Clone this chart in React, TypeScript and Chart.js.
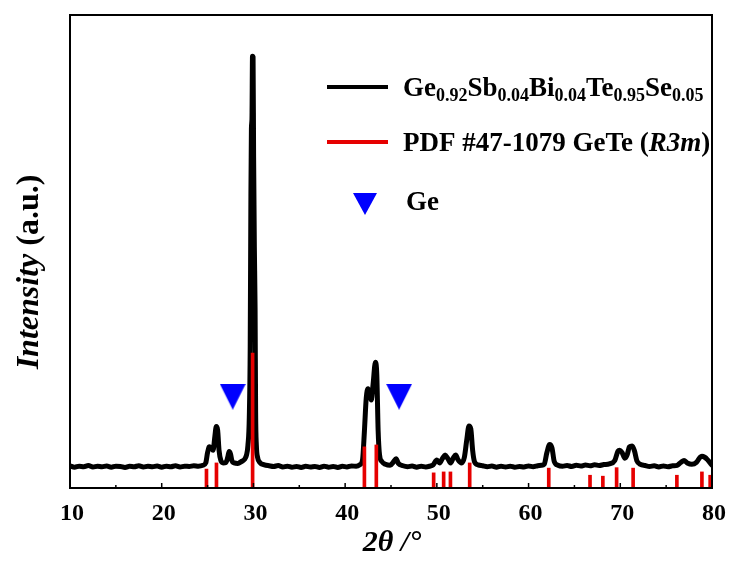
import { useEffect, useRef } from "react";
import { Chart, registerables } from "chart.js";

Chart.register(...registerables);

// Measured XRD pattern: 2θ (degrees) and intensity (arbitrary units)
const twoTheta = [
  10, 10.5, 11, 11.5, 12, 12.5, 13, 13.5, 14, 14.5, 15, 15.5, 16, 16.5, 17, 17.5, 18, 18.5, 19, 19.5,
  20, 20.5, 21, 21.5, 22, 22.5, 23, 23.5, 24, 24.5, 24.8, 25.0, 25.2, 25.4,
  25.6, 25.8, 25.95, 26.1, 26.25, 26.45, 26.7, 27.0, 27.2, 27.35, 27.5, 27.65, 27.9, 28.3, 28.7,
  29.0, 29.25, 29.4, 29.55, 29.65, 29.72, 29.78, 29.84, 29.9, 29.96, 30.02, 30.1, 30.18, 30.24,
  30.32, 30.45, 30.7, 31.2, 31.7, 32.2, 32.7, 33.2, 33.7, 34.2, 34.7, 35.2, 35.7, 36.2, 36.7, 37.2,
  37.7, 38.2, 38.7, 39.2, 39.7, 40.2, 40.7, 41.2, 41.6, 41.9, 42.1, 42.3, 42.5,
  42.65, 42.85, 43.05, 43.3, 43.45, 43.6, 43.75, 44.0, 44.4, 44.9, 45.3, 45.55, 45.8, 46.3, 46.8,
  47.3, 47.8, 48.3, 48.8, 49.2, 49.6, 50.0, 50.3, 50.6, 50.9, 51.2, 51.5, 51.8, 52.05, 52.3, 52.7, 53.0, 53.25, 53.5,
  53.7, 53.9, 54.1, 54.5, 55, 55.5, 56, 56.5, 57, 57.5, 58, 58.5, 59, 59.5, 60, 60.5, 61, 61.4,
  61.7, 62.0, 62.3, 62.55, 62.8, 63.2, 63.7, 64.2, 64.7, 65.2, 65.7, 66.2, 66.7, 67.2, 67.7, 68.2,
  68.8, 69.4, 69.75, 69.95, 70.2, 70.5, 70.75, 71.0, 71.3, 71.55, 71.8, 72.2,
  72.7, 73.2, 73.7, 74.2, 74.7, 75.2, 75.7, 76.2, 76.6, 76.95, 77.3, 77.8, 78.3, 78.7, 78.9, 79.2, 79.5, 79.8, 80,
];
const intensity = [
  4.7, 4.4, 4.6, 4.5, 4.75, 4.45, 4.6, 4.5, 4.65, 4.4, 4.6, 4.55, 4.35, 4.6, 4.5, 4.7, 4.45, 4.6, 4.5, 4.65,
  4.4, 4.6, 4.5, 4.7, 4.45, 4.6, 4.55, 4.7, 4.6, 4.8, 5.3, 7.5, 8.7, 8.5,
  8.0, 11, 13.0, 12.2, 8, 5.8, 5.3, 5.4, 6.5, 7.7, 7.2, 5.8, 5.3, 5.2, 5.6,
  6.0, 7.0, 9, 15, 30, 60, 76, 78, 91.3, 91.1, 70, 51, 38, 16,
  9, 6.5, 5.4, 4.9, 4.7, 4.55, 4.75, 4.45, 4.6, 4.4, 4.55, 4.35, 4.6, 4.45, 4.55, 4.35,
  4.6, 4.4, 4.55, 4.35, 4.6, 4.45, 4.65, 4.6, 4.9, 6, 12, 19, 21.0,
  20, 18.6, 22, 26.6, 24, 12, 7, 5.6, 5.0, 4.8, 5.6, 6.2, 5.2, 4.7, 4.5,
  4.65, 4.4, 4.6, 4.45, 4.6, 4.9, 5.9, 5.3, 6.2, 7.0, 6.2, 5.3, 6.4, 7.0, 6.0, 5.3, 6.5, 10, 13.1,
  12.5, 8, 5.6, 4.9, 4.7, 4.5, 4.65, 4.4, 4.6, 4.45, 4.6, 4.4, 4.55, 4.45, 4.65, 4.5, 4.7, 4.8,
  5.0, 7.5, 9.2, 8.5, 5.6, 4.8, 4.6, 4.75, 4.55, 4.8, 4.65, 4.85, 4.7, 4.9, 4.75, 4.95,
  5.1, 5.8, 7.8, 8.0, 7.5, 6.3, 7.0, 8.7, 8.9, 7.8, 5.8, 5.0,
  4.75, 4.55, 4.7, 4.45, 4.65, 4.5, 4.7, 4.8, 5.4, 5.8, 5.3, 5.0, 5.4, 6.5, 6.7, 6.5, 6.0, 5.3, 4.8,
];

// Reference pattern PDF #47-1079 GeTe (R3m): positions and relative intensities
const pdfPositions = [
  24.88, 25.97, 29.91, 42.1, 43.4, 49.65, 50.74, 51.48, 53.58, 62.2, 66.7, 68.1, 69.6, 71.4,
  76.17, 78.9, 79.8,
];
const pdfIntensity = [
  4.0, 5.3, 28.5, 8.7, 9.1, 3.2, 3.4, 3.4, 5.3, 4.2, 2.7, 2.5, 4.3, 4.2, 2.7, 3.4, 2.7,
];

// Ge impurity markers
const gePositions = [27.74, 45.88];
const geMarkerLevel = [19.3, 19.3];

const xMin = 10;
const xMax = 80;
const xStep = 10;
const xMinorStep = 5;

const FONT = "'Liberation Serif', 'Times New Roman', serif";
const BLUE = "#0000ff";
const RED = "#e60000";

function makeTriangle(w: number, h: number): HTMLCanvasElement {
  const c = document.createElement("canvas");
  c.width = w;
  c.height = h;
  const g = c.getContext("2d")!;
  g.fillStyle = BLUE;
  g.beginPath();
  g.moveTo(0, 0);
  g.lineTo(w, 0);
  g.lineTo(w / 2, h);
  g.closePath();
  g.fill();
  return c;
}

type Seg = { t: string; sub?: boolean; it?: boolean };

function drawRich(ctx: CanvasRenderingContext2D, segs: Seg[], x: number, y: number, size: number) {
  let cx = x;
  ctx.textBaseline = "alphabetic";
  ctx.textAlign = "left";
  for (const s of segs) {
    const sz = s.sub ? Math.round(size * 0.68) : size;
    ctx.font = `${s.it ? "italic " : ""}bold ${sz}px ${FONT}`;
    ctx.fillText(s.t, cx, s.sub ? y + 5 : y);
    cx += ctx.measureText(s.t).width;
  }
  return cx;
}

const decorations = {
  id: "decorations",
  afterDatasetsDraw(chart: any) {
    const { ctx, chartArea } = chart;
    const xs = chart.scales.x;
    ctx.save();
    // minor / major ticks pointing inward on the bottom axis
    ctx.strokeStyle = "#000";
    ctx.lineWidth = 1.5;
    for (let v = xMin; v <= xMax; v += xMinorStep) {
      const px = xs.getPixelForValue(v);
      const len = v % xStep === 0 ? 5 : 3;
      ctx.beginPath();
      ctx.moveTo(px, chartArea.bottom);
      ctx.lineTo(px, chartArea.bottom - len);
      ctx.stroke();
    }
    // frame
    ctx.lineWidth = 2;
    ctx.strokeRect(chartArea.left, chartArea.top, chartArea.right - chartArea.left, chartArea.bottom - chartArea.top);
    ctx.restore();
  },
  afterDraw(chart: any) {
    const { ctx } = chart;
    ctx.save();
    ctx.fillStyle = "#000";

    // legend
    ctx.lineWidth = 4;
    ctx.strokeStyle = "#000";
    ctx.beginPath();
    ctx.moveTo(327, 87);
    ctx.lineTo(388, 87);
    ctx.stroke();
    drawRich(
      ctx,
      [
        { t: "Ge" }, { t: "0.92", sub: true },
        { t: "Sb" }, { t: "0.04", sub: true },
        { t: "Bi" }, { t: "0.04", sub: true },
        { t: "Te" }, { t: "0.95", sub: true },
        { t: "Se" }, { t: "0.05", sub: true },
      ],
      403, 96, 27
    );

    ctx.strokeStyle = RED;
    ctx.beginPath();
    ctx.moveTo(327, 142);
    ctx.lineTo(388, 142);
    ctx.stroke();
    drawRich(ctx, [{ t: "PDF #47-1079 GeTe (" }, { t: "R3m", it: true }, { t: ")" }], 403, 151, 27);

    ctx.fillStyle = BLUE;
    ctx.beginPath();
    ctx.moveTo(353, 193);
    ctx.lineTo(377, 193);
    ctx.lineTo(365, 215);
    ctx.closePath();
    ctx.fill();
    ctx.fillStyle = "#000";
    drawRich(ctx, [{ t: "Ge" }], 406, 210, 27);

    // x axis title
    ctx.font = `italic bold 30px ${FONT}`;
    ctx.textAlign = "center";
    ctx.textBaseline = "alphabetic";
    ctx.fillText("2\u03b8 /\u00b0", 392, 551);

    // y axis title
    ctx.translate(38, 272);
    ctx.rotate(-Math.PI / 2);
    ctx.font = `italic bold 32px ${FONT}`;
    const w1 = ctx.measureText("Intensity").width;
    ctx.font = `bold 32px ${FONT}`;
    const w2 = ctx.measureText(" (a.u.)").width;
    const start = -(w1 + w2) / 2;
    ctx.textAlign = "left";
    ctx.font = `italic bold 32px ${FONT}`;
    ctx.fillText("Intensity", start, 0);
    ctx.font = `bold 32px ${FONT}`;
    ctx.fillText(" (a.u.)", start + w1, 0);
    ctx.restore();
  },
};

export default function App() {
  const ref = useRef<HTMLCanvasElement>(null);

  useEffect(() => {
    if (!ref.current) return;
    const tri = makeTriangle(26, 26);
    const chart = new Chart(ref.current, {
      type: "line",
      data: {
        datasets: [
          {
            type: "bar",
            label: "PDF #47-1079 GeTe (R3m)",
            data: pdfPositions.map((x, i) => ({ x, y: pdfIntensity[i] })),
            backgroundColor: RED,
            borderWidth: 0,
            barThickness: 3,
            order: 0,
          } as any,
          {
            type: "scatter",
            label: "Ge",
            data: gePositions.map((x, i) => ({ x, y: geMarkerLevel[i] })),
            pointStyle: tri,
            pointRadius: 13,
            showLine: false,
            order: 1,
          } as any,
          {
            type: "line",
            label: "Ge0.92Sb0.04Bi0.04Te0.95Se0.05",
            data: twoTheta.map((x, i) => ({ x, y: intensity[i] })),
            borderColor: "#000",
            borderWidth: 5,
            pointRadius: 0,
            cubicInterpolationMode: "monotone",
            borderJoinStyle: "round",
            borderCapStyle: "round",
            fill: false,
            order: 2,
          } as any,
        ],
      },
      options: {
        responsive: false,
        animation: false,
        events: [],
        layout: { padding: { left: 70, right: 17, top: 15, bottom: 0 } },
        plugins: { legend: { display: false }, tooltip: { enabled: false } },
        scales: {
          x: {
            type: "linear",
            min: xMin,
            max: xMax,
            offset: false,
            grid: { display: false, drawTicks: false },
            border: { display: false },
            ticks: {
              stepSize: xStep,
              padding: 11,
              labelOffset: 2,
              color: "#000",
              font: { family: FONT, weight: "bold", size: 24 },
            },
            afterFit: (s: any) => {
              s.height = 74;
              s.paddingLeft = 0;
              s.paddingRight = 0;
            },
          },
          y: {
            type: "linear",
            display: false,
            min: 0,
            max: 100,
          },
        },
      },
      plugins: [decorations],
    });
    return () => chart.destroy();
  }, []);

  return (
    <div style={{ position: "fixed", left: 0, top: 0, width: 729, height: 562, background: "#fff" }}>
      <canvas ref={ref} width={729} height={562} />
    </div>
  );
}
